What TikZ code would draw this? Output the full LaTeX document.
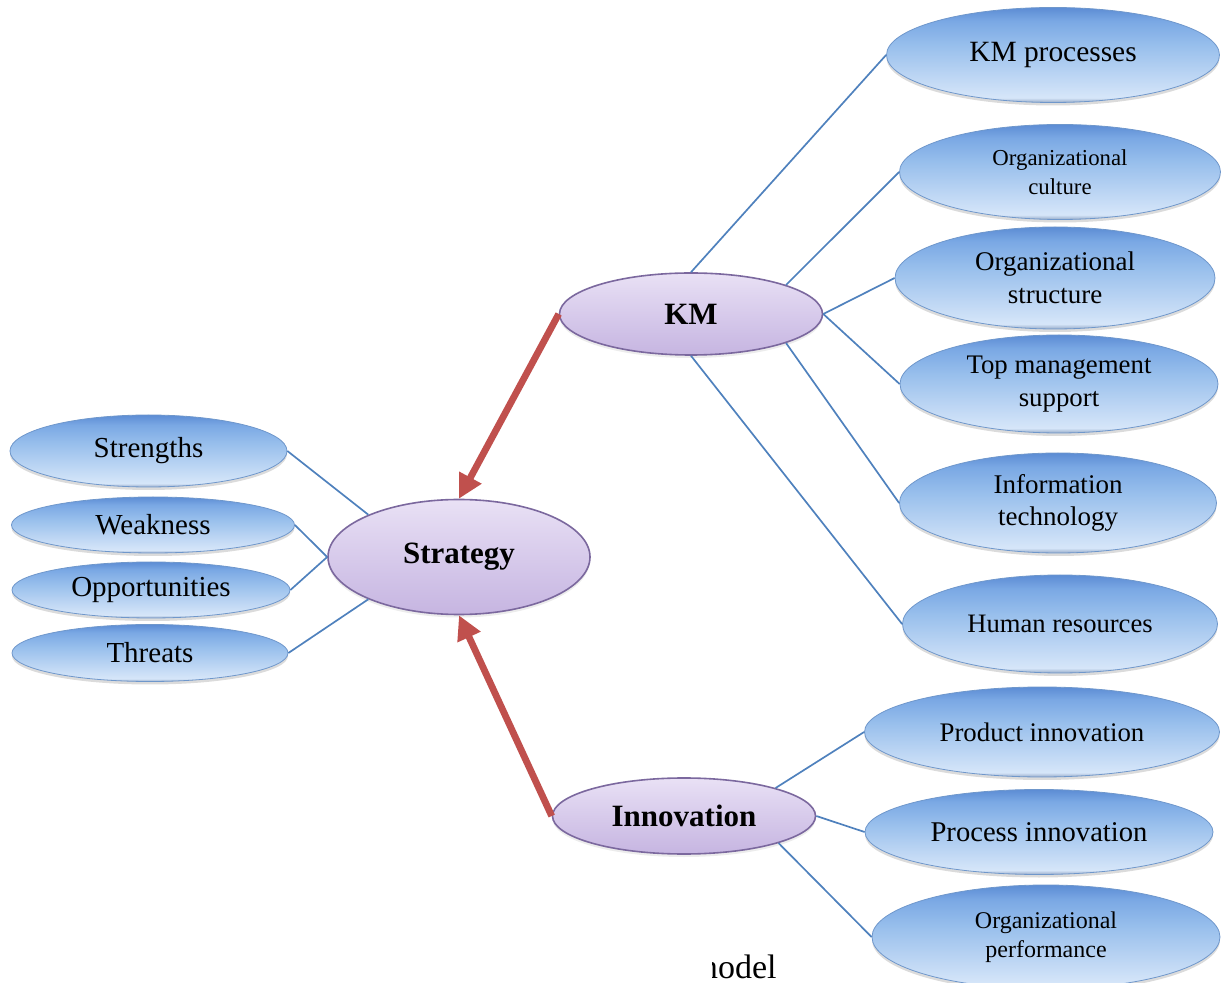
\documentclass[tikz,border=0pt]{standalone}
\usepackage{fontspec}
\setmainfont{Liberation Serif}
\usepackage{tikz}
\usetikzlibrary{arrows.meta,shapes.geometric,shadows}

\definecolor{linkblue}{HTML}{4F81BD}
\definecolor{pushred}{HTML}{C0504D}
\definecolor{hubedge}{HTML}{7B689E}
\definecolor{leafedge}{HTML}{6F97CB}
\pgfdeclareverticalshading{bluebevel}{100bp}{%
  color(0bp)=({rgb,255:red,150;green,170;blue,200});
  color(25bp)=({rgb,255:red,150;green,170;blue,200});
  color(27.5bp)=({rgb,255:red,214;green,230;blue,249});
  color(40bp)=({rgb,255:red,186;green,212;blue,243});
  color(55bp)=({rgb,255:red,152;green,191;blue,236});
  color(68bp)=({rgb,255:red,122;green,168;blue,228});
  color(75bp)=({rgb,255:red,92;green,140;blue,212});
  color(100bp)=({rgb,255:red,92;green,140;blue,212})}
\pgfdeclareverticalshading{lilac}{100bp}{%
  color(0bp)=({rgb,255:red,198;green,181;blue,225});
  color(25bp)=({rgb,255:red,198;green,181;blue,225});
  color(60bp)=({rgb,255:red,222;green,211;blue,239});
  color(75bp)=({rgb,255:red,233;green,225;blue,245});
  color(100bp)=({rgb,255:red,233;green,225;blue,245})}

\tikzset{
  leaf/.style={ellipse, shade, shading=bluebevel, draw=leafedge, line width=0.4pt,
    inner sep=0pt, align=center,
    drop shadow={shadow xshift=0pt, shadow yshift=-1.5pt, opacity=0.2, fill=black!70}},
  hub/.style={ellipse, shade, shading=lilac, draw=hubedge, line width=0.8pt,
    inner sep=0pt, font=\fontsize{15.5pt}{18pt}\selectfont\bfseries,
    drop shadow={shadow xshift=0pt, shadow yshift=-1.5pt, opacity=0.12, fill=black!60}},
  link/.style={draw=linkblue, line width=0.85pt},
  push/.style={draw=pushred, line width=3.4pt, -{Triangle[length=12pt,width=12pt]}},
}

\begin{document}
\begin{tikzpicture}[x=0.5pt, y=-0.5pt]
    \useasboundingbox (0,0) rectangle (1221,983);

    \node[hub, minimum width=131pt, minimum height=57.5pt](strategy) at (459,557) {Strategy};
    \node[hub, minimum width=131.5pt, minimum height=41pt](km) at (691,314) {KM};
    \node[hub, minimum width=131.5pt, minimum height=38pt](innov) at (684,816) {Innovation};

    \node[leaf, minimum width=166.5pt, minimum height=47.5pt, font=\fontsize{14.7pt}{17pt}\selectfont](kmproc) at (1053,55) {KM processes};
    \node[leaf, minimum width=160.5pt, minimum height=47.5pt, font=\fontsize{11.4pt}{14.5pt}\selectfont](culture) at (1060,172) {Organizational\\culture};
    \node[leaf, minimum width=160pt, minimum height=51pt, font=\fontsize{13.5pt}{16.5pt}\selectfont](structure) at (1055,278) {Organizational\\structure};
    \node[leaf, minimum width=159pt, minimum height=49pt, font=\fontsize{13.4pt}{16.5pt}\selectfont](topmgmt) at (1059,384) {Top management\\support};
    \node[leaf, minimum width=158.5pt, minimum height=50pt, font=\fontsize{13.5pt}{16pt}\selectfont](infotech) at (1058,503) {Information\\technology};
    \node[leaf, minimum width=157.5pt, minimum height=49pt, font=\fontsize{13.3pt}{16pt}\selectfont](humanres) at (1060,624) {Human resources};
    \node[leaf, minimum width=177.5pt, minimum height=45pt, font=\fontsize{13.4pt}{16pt}\selectfont](product) at (1042,732) {Product innovation};
    \node[leaf, minimum width=174pt, minimum height=42.5pt, font=\fontsize{14.3pt}{16pt}\selectfont](process) at (1039,832) {Process innovation};
    \node[leaf, minimum width=174pt, minimum height=52pt, font=\fontsize{12pt}{14.5pt}\selectfont](perf) at (1046,937) {Organizational\\performance};

    \node[leaf, minimum width=138.5pt, minimum height=36pt, font=\fontsize{14.5pt}{17pt}\selectfont](strengths) at (148.5,451) {Strengths};
    \node[leaf, minimum width=141.5pt, minimum height=28pt, font=\fontsize{14.5pt}{17pt}\selectfont](weakness) at (153,525) {Weakness};
    \node[leaf, minimum width=139pt, minimum height=28pt, font=\fontsize{14.5pt}{17pt}\selectfont](opport) at (151,590) {Opportunities};
    \node[leaf, minimum width=138pt, minimum height=28.5pt, font=\fontsize{14.5pt}{17pt}\selectfont](threats) at (150,653) {Threats};

    \draw[link] (km.north) edge (kmproc.west)
                (km.17) edge (culture.west)
                (km.east) edge (structure.west)
                (km.east) edge (topmgmt.west)
                (km.-17) edge (infotech.west)
                (km.south) edge (humanres.west)
                (innov.17) edge (product.west)
                (innov.east) edge (process.west)
                (innov.-16) edge (perf.west)
                (strategy.155) edge (strengths.east)
                (strategy.west) edge (weakness.east)
                (strategy.west) edge (opport.east)
                (strategy.205) edge (threats.east);

    \draw[push] (km.west) -- (strategy.north);
    \draw[push] (innov.west) -- (strategy.south);

    \begin{scope}
      \clip (712,930) rectangle (800,983);
      \node[anchor=base east, inner sep=0pt, font=\fontsize{17pt}{20pt}\selectfont](caption) at (777,978) {model};
    \end{scope}
  \end{tikzpicture}
\end{document}
